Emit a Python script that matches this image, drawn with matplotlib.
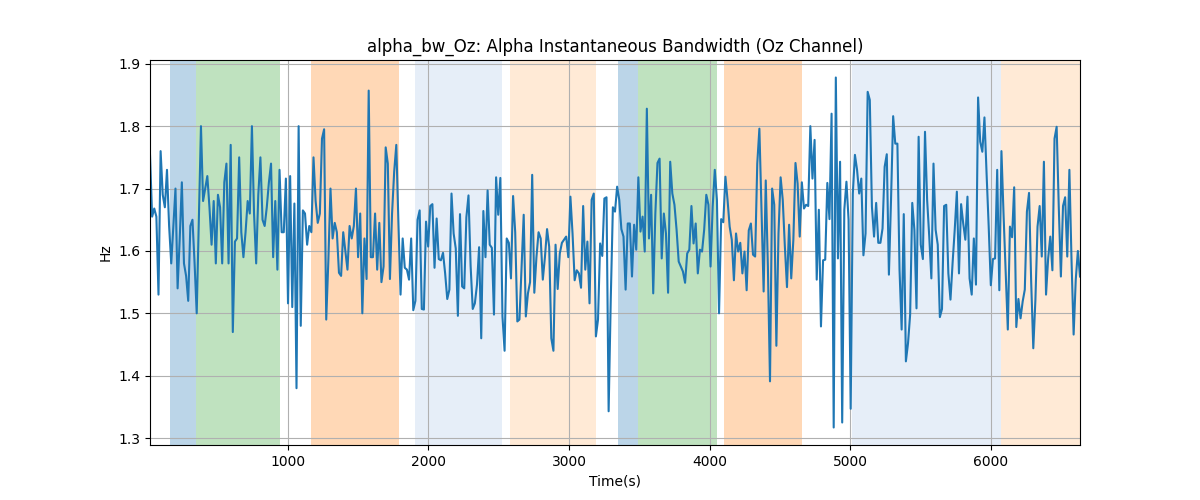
import numpy as np
import matplotlib
matplotlib.use("Agg")
import matplotlib.pyplot as plt

# sampling grid of the signal
t_start = 20.0
t_step = 15.1

seg1 = [1.754, 1.655, 1.668, 1.655, 1.53, 1.76, 1.69, 1.67, 1.73, 1.64,
        1.58, 1.64, 1.70, 1.54, 1.62, 1.71, 1.58, 1.56, 1.52, 1.64,
        1.65, 1.58, 1.50, 1.65, 1.80, 1.68, 1.70, 1.72, 1.67, 1.61,
        1.68, 1.58, 1.69, 1.67, 1.58, 1.71, 1.74, 1.58, 1.77, 1.47,
        1.615, 1.62, 1.75, 1.63, 1.59, 1.63, 1.68, 1.66, 1.80, 1.66,
        1.58, 1.69, 1.75, 1.65, 1.64, 1.67, 1.71, 1.74, 1.59, 1.68,
        1.57, 1.73, 1.63]
seg2 = [1.63, 1.716, 1.516, 1.72, 1.51, 1.676, 1.38, 1.80, 1.48, 1.665,
        1.66, 1.61, 1.64, 1.63, 1.75, 1.68, 1.645, 1.66, 1.78, 1.795,
        1.49, 1.585, 1.70, 1.62, 1.645, 1.63, 1.565, 1.56, 1.63, 1.60,
        1.57, 1.64, 1.62, 1.64, 1.70, 1.59, 1.66, 1.50, 1.62, 1.555,
        1.857, 1.59, 1.59, 1.66, 1.57, 1.645, 1.55, 1.575, 1.766, 1.74,
        1.555, 1.66, 1.727, 1.77, 1.645, 1.53, 1.62, 1.573, 1.57, 1.554,
        1.62, 1.505, 1.52]
seg3 = [1.65, 1.665, 1.507, 1.506, 1.647, 1.607, 1.672, 1.675, 1.573, 1.652,
        1.587, 1.585, 1.597, 1.564, 1.523, 1.538, 1.692, 1.628, 1.604, 1.496,
        1.659, 1.543, 1.54, 1.654, 1.689, 1.576, 1.507, 1.516, 1.546, 1.606,
        1.46, 1.664, 1.59, 1.697, 1.61, 1.605, 1.498, 1.718, 1.658, 1.717,
        1.495, 1.44, 1.62, 1.613, 1.556, 1.688, 1.63, 1.487, 1.49, 1.574,
        1.658, 1.495, 1.532, 1.55, 1.722, 1.533, 1.59, 1.63, 1.62, 1.554,
        1.59, 1.635, 1.607, 1.46]
seg4 = [1.44, 1.61, 1.539, 1.596, 1.613, 1.618, 1.623, 1.59, 1.687, 1.628,
        1.553, 1.569, 1.564, 1.541, 1.672, 1.57, 1.615, 1.516, 1.682, 1.692,
        1.463, 1.49, 1.612, 1.592, 1.684, 1.686, 1.343, 1.522, 1.67, 1.663,
        1.703, 1.682, 1.635, 1.623, 1.538, 1.644, 1.644, 1.559, 1.642, 1.602,
        1.718, 1.631, 1.655, 1.599, 1.828, 1.62, 1.69, 1.532, 1.66, 1.741,
        1.748, 1.588, 1.66, 1.628, 1.533, 1.743, 1.692, 1.674, 1.634, 1.583,
        1.575, 1.567, 1.549, 1.596]
seg5 = [1.602, 1.672, 1.612, 1.644, 1.564, 1.602, 1.599, 1.634, 1.69, 1.674,
        1.575, 1.671, 1.73, 1.682, 1.50, 1.651, 1.646, 1.719, 1.682, 1.639,
        1.618, 1.553, 1.628, 1.599, 1.613, 1.564, 1.599, 1.537, 1.633, 1.644,
        1.594, 1.591, 1.74, 1.796, 1.666, 1.535, 1.713, 1.575, 1.391, 1.70,
        1.674, 1.448, 1.628, 1.718, 1.682, 1.607, 1.542, 1.642, 1.556, 1.618,
        1.741, 1.708, 1.623, 1.71, 1.668, 1.674, 1.672, 1.80, 1.716, 1.778,
        1.554, 1.666, 1.479, 1.585]
seg6 = [1.586, 1.709, 1.651, 1.82, 1.317, 1.878, 1.588, 1.743, 1.325, 1.666,
        1.711, 1.65, 1.347, 1.692, 1.754, 1.73, 1.692, 1.716, 1.593, 1.628,
        1.855, 1.842, 1.671, 1.623, 1.677, 1.613, 1.613, 1.636, 1.735, 1.755,
        1.562, 1.682, 1.816, 1.772, 1.772, 1.57, 1.474, 1.659, 1.423, 1.452,
        1.498, 1.677, 1.634, 1.508, 1.783, 1.61, 1.587, 1.791, 1.682, 1.623,
        1.556, 1.74, 1.634, 1.61, 1.494, 1.507, 1.672, 1.674, 1.564, 1.522,
        1.581, 1.634, 1.695, 1.564]
seg7 = [1.675, 1.644, 1.618, 1.687, 1.556, 1.53, 1.62, 1.546, 1.846, 1.775,
        1.759, 1.814, 1.724, 1.639, 1.545, 1.587, 1.588, 1.73, 1.537, 1.76,
        1.658, 1.564, 1.474, 1.639, 1.622, 1.702, 1.478, 1.523, 1.492, 1.519,
        1.538, 1.663, 1.693, 1.551, 1.444, 1.522, 1.639, 1.672, 1.591, 1.743,
        1.53, 1.588, 1.623, 1.569, 1.78, 1.799, 1.671, 1.559, 1.672, 1.686,
        1.591, 1.73, 1.586, 1.466, 1.554, 1.60, 1.559]

bandwidth = np.array(seg1 + seg2 + seg3 + seg4 + seg5 + seg6 + seg7)
time = t_start + t_step * np.arange(len(bandwidth))

# shaded intervals (start, end, colour)
span_starts = [161, 344, 1164, 1903, 2579, 3347, 3491, 4101, 5009, 6074]
span_ends = [344, 948, 1789, 2520, 3189, 3491, 4049, 4654, 6071, 6700]
span_colors = ["#1f77b4", "#2ca02c", "#ff7f0e", "#aec7e8", "#ffbb78",
               "#1f77b4", "#2ca02c", "#ff7f0e", "#aec7e8", "#ffbb78"]

fig, ax = plt.subplots(figsize=(12, 5), dpi=100)
for s, e, c in zip(span_starts, span_ends, span_colors):
    ax.axvspan(s, e, color=c, alpha=0.3, linewidth=0)
ax.plot(time, bandwidth, color="#1f77b4", linewidth=1.5)
ax.set_xlim(time[0], time[-1])
ax.grid(True)
ax.set_title("alpha_bw_Oz: Alpha Instantaneous Bandwidth (Oz Channel)")
ax.set_xlabel("Time(s)")
ax.set_ylabel("Hz")
fig.savefig("out.png", dpi=100)
